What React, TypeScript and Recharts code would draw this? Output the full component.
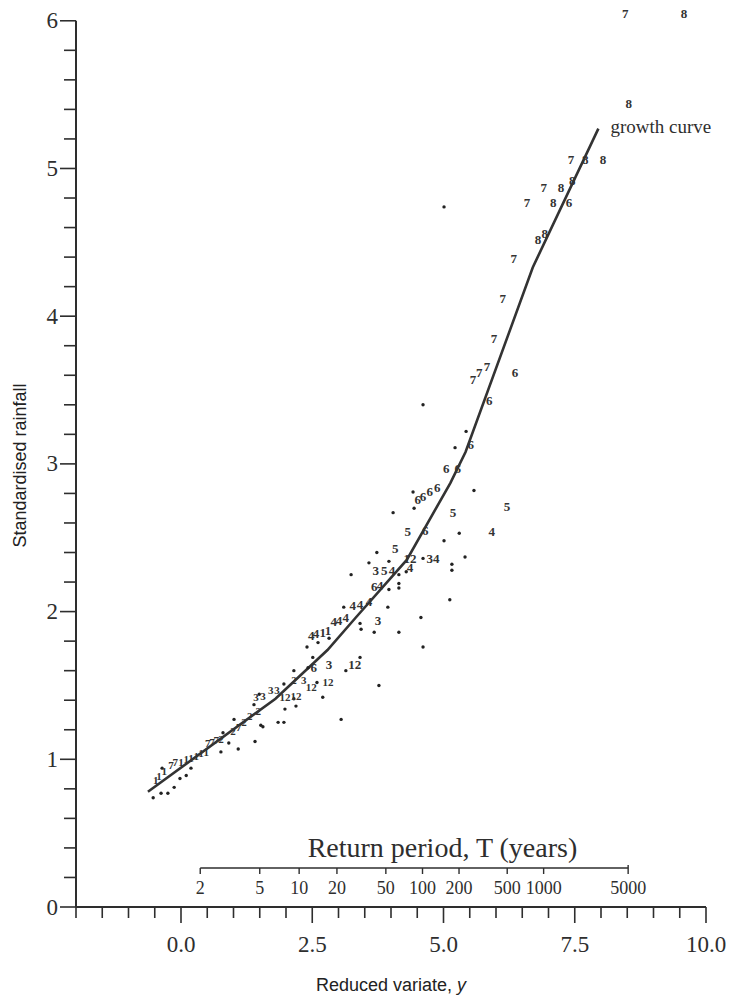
import React from 'react'
import {
  ComposedChart,
  Line,
  Scatter,
  XAxis,
  YAxis,
  ReferenceLine,
  ReferenceDot,
} from 'recharts'

// growth curve (reduced variate vs standardised rainfall)
const growthX = [-0.63, 1.8, 2.79, 3.33, 4.3, 5.13, 5.42, 6.7, 7.95]
const growthY = [0.78, 1.41, 1.74, 1.96, 2.35, 2.87, 3.08, 4.33, 5.27]

// unlabelled plotting positions
const dotX = [
  -0.53, -0.38, -0.25, -0.13, -0.02, 0.1, -0.36, 0.19, 0.8, 0.76, 1.09, 1.01, 1.41, 1.56,
  1.39, 1.49, 1.85, 1.96, 1.98, 2.19, 2.15, 2.7, 2.59, 1.96, 3.05, 3.77, 3.14, 3.41, 2.15,
  2.42, 2.51, 2.4, 2.61, 2.82, 3.41, 3.43, 3.68, 4.15, 4.61, 4.57, 5.12, 3.94, 3.1, 4.15,
  4.15, 3.96, 3.24, 4.15, 4.29, 3.58, 3.96, 5.16, 5.16, 4.61, 5.41, 3.73, 5.01, 5.3, 4.04,
  4.44, 4.42, 5.58, 5.22, 5.43, 4.61, 5.01, 1.52, 0.91,
]
const dotY = [
  0.74, 0.77, 0.77, 0.81, 0.87, 0.89, 0.94, 0.94, 1.18, 1.05, 1.07, 1.27, 1.12, 1.22,
  1.37, 1.44, 1.25, 1.25, 1.34, 1.36, 1.41, 1.42, 1.52, 1.51, 1.27, 1.5, 1.6, 1.69, 1.6,
  1.62, 1.69, 1.76, 1.79, 1.82, 1.92, 1.88, 1.86, 1.86, 1.76, 1.96, 2.08, 2.03, 2.03, 2.19,
  2.16, 2.15, 2.25, 2.25, 2.27, 2.33, 2.34, 2.32, 2.28, 2.36, 2.37, 2.4, 2.48, 2.53, 2.67,
  2.7, 2.81, 2.82, 3.11, 3.22, 3.4, 4.74, 1.23, 1.11,
]

// numbered plotting positions (number = site)
const markX = [
  8.46, 9.58, 8.53, 7.43, 7.7, 8.04, 7.45, 6.91, 7.24, 6.59, 7.09, 7.39, 6.8, 6.93, 6.34,
  6.13, 5.96, 5.56, 5.68, 5.83, 6.36, 5.87, 5.52, 5.05, 5.27, 4.51, 4.61, 4.74, 4.88, 5.18,
  6.21, 4.32, 4.65, 5.92, 4.08, 4.36, 4.8, 3.71, 3.87, 4.02, 4.36, 3.68, 3.79, 3.27, 3.41,
  3.58, 3.75, 2.91, 3.01, 3.14, 2.48, 2.57, 2.7, 2.8, 2.53, 2.82, 3.31, 2.15, 2.34, 2.8,
  2.48, 1.43, 1.56, 1.71, 1.83, 1.98, 2.19, 0.99, 1.1, 1.2, 1.31, 1.47, 0.51, 0.59, 0.67,
  0.76, -0.19, -0.11, 0.0, 0.1, 0.19, 0.29, 0.38, 0.48, -0.48, -0.42, -0.32,
]
const markY = [
  6.05, 6.05, 5.44, 5.06, 5.06, 5.06, 4.92, 4.87, 4.87, 4.77, 4.77, 4.77, 4.52, 4.56, 4.39,
  4.12, 3.85, 3.57, 3.62, 3.66, 3.62, 3.43, 3.13, 2.97, 2.97, 2.76, 2.78, 2.81, 2.84, 2.67,
  2.71, 2.54, 2.55, 2.54, 2.43, 2.36, 2.36, 2.28, 2.28, 2.28, 2.3, 2.17, 2.18, 2.04, 2.05,
  2.07, 1.94, 1.93, 1.94, 1.96, 1.84, 1.85, 1.86, 1.87, 1.62, 1.64, 1.64, 1.54, 1.54, 1.52,
  1.49, 1.42, 1.43, 1.47, 1.47, 1.42, 1.43, 1.19, 1.22, 1.25, 1.29, 1.33, 1.11, 1.12, 1.13,
  1.14, 0.96, 0.98, 0.98, 1.0, 1.01, 1.02, 1.04, 1.05, 0.86, 0.89, 0.92,
]
const markText = [
  '7', '8', '8', '7', '8', '8', '8', '7', '8', '7', '8', '6', '8', '8', '7',
  '7', '7', '7', '7', '7', '6', '6', '6', '6', '6', '6', '6', '6', '6', '5',
  '5', '5', '6', '4', '5', '12', '34', '3', '5', '4', '4', '6', '4', '4', '4',
  '4', '3', '4', '4', '4', '4', '4', '1', '1', '6', '3', '12', '2', '3', '12',
  '12', '3', '3', '3', '3', '12', '12', '2', '7', '2', '2', '2', '7', '7', '7',
  '2', '7', '7', '1', '1', '1', '1', '1', '1', '1', '1', '1',
]

// secondary scale
const returnPeriods = [2, 5, 10, 20, 50, 100, 200, 500, 1000, 5000]

const xTicks = [
  -2, -1.5, -1, -0.5, 0, 0.5, 1, 1.5, 2, 2.5, 3, 3.5, 4, 4.5, 5, 5.5, 6, 6.5, 7, 7.5, 8,
  8.5, 9, 9.5, 10,
]
const yTicks = [
  0, 0.2, 0.4, 0.6, 0.8, 1, 1.2, 1.4, 1.6, 1.8, 2, 2.2, 2.4, 2.6, 2.8, 3, 3.2, 3.4, 3.6,
  3.8, 4, 4.2, 4.4, 4.6, 4.8, 5, 5.2, 5.4, 5.6, 5.8, 6,
]

const INK = '#2e2e2e'
const SERIF = '"Liberation Serif", "Times New Roman", serif'
const SANS = '"Liberation Sans", Arial, sans-serif'

// where the return-period scale sits inside the plot
const RP_Y = 0.264
const RP_TITLE_X = 4.98
const RP_TITLE_Y = 0.4

// Gumbel reduced variate for a return period
const reducedVariate = (T: number) => -Math.log(-Math.log(1 - 1 / T))

const growthData = growthX.map((x, i) => ({ x, y: growthY[i] }))
const dotData = dotX.map((x, i) => ({ x, y: dotY[i] }))
const markData = markX.map((x, i) => ({ x, y: markY[i], label: markText[i] }))
const rpData = returnPeriods.map((T) => ({ x: reducedVariate(T), y: RP_Y, T }))

function XTick(props: any) {
  const { x, y, payload } = props
  const v = payload.value as number
  const major = Math.abs(v / 2.5 - Math.round(v / 2.5)) < 1e-6
  return (
    <g>
      <line x1={x} y1={y} x2={x} y2={y + (major ? 16 : 11)} stroke={INK} strokeWidth={1.6} />
      {major && (
        <text x={x} y={y + 45} textAnchor="middle" fontFamily={SERIF} fontSize={23} fill={INK}>
          {v.toFixed(1)}
        </text>
      )}
    </g>
  )
}

function YTick(props: any) {
  const { x, y, payload } = props
  const v = payload.value as number
  const major = Math.abs(v - Math.round(v)) < 1e-6
  return (
    <g>
      <line x1={x} y1={y} x2={x - (major ? 16 : 12)} y2={y} stroke={INK} strokeWidth={1.6} />
      {major && (
        <text
          x={x - 18}
          y={y}
          textAnchor="end"
          dominantBaseline="central"
          fontFamily={SERIF}
          fontSize={23}
          fill={INK}
        >
          {Math.round(v)}
        </text>
      )}
    </g>
  )
}

const SmallDot = (props: any) => <circle cx={props.cx} cy={props.cy} r={1.7} fill="#222" />

// the crowded low-return-period marks are printed smaller in the source
const NumberMark = (props: any) => {
  const small = props.payload.y < 1.6
  return (
    <text
      x={props.cx}
      y={props.cy}
      textAnchor="middle"
      dominantBaseline="central"
      fontFamily={SERIF}
      fontSize={small ? 11 : 13}
      fontWeight={600}
      fill="#333"
    >
      {props.payload.label}
    </text>
  )
}

const RpTick = (props: any) => {
  const { cx, cy, payload } = props
  const isEnd = payload.T === returnPeriods[returnPeriods.length - 1]
  return (
    <g>
      <line x1={cx} y1={isEnd ? cy - 3 : cy} x2={cx} y2={cy + 6} stroke={INK} strokeWidth={1.4} />
      <text x={cx} y={cy + 26} textAnchor="middle" fontFamily={SERIF} fontSize={18} fill={INK}>
        {payload.T}
      </text>
    </g>
  )
}

const RpTitle = (props: any) => (
  <text
    x={props.cx}
    y={props.cy}
    textAnchor="middle"
    dominantBaseline="central"
    fontFamily={SERIF}
    fontSize={28}
    fill={INK}
  >
    Return period, T (years)
  </text>
)

const GrowthLabel = (props: any) => (
  <text
    x={props.cx + 12}
    y={props.cy - 2}
    dominantBaseline="central"
    fontFamily={SERIF}
    fontSize={19}
    fill={INK}
  >
    growth curve
  </text>
)

const XTitle = (props: any) => {
  const vb = props.viewBox || { x: 76, y: 907, width: 630, height: 30 }
  return (
    <text x={vb.x + vb.width / 2} y={vb.y + 84} textAnchor="middle" fontFamily={SANS} fontSize={18} fill="#222">
      Reduced variate, <tspan fontStyle="italic">y</tspan>
    </text>
  )
}

const YTitle = (props: any) => {
  const vb = props.viewBox || { x: 16, y: 6, width: 60, height: 901 }
  const cx = vb.x + 4
  const cy = vb.y + vb.height / 2 + 9
  return (
    <text
      x={cx}
      y={cy}
      transform={`rotate(-90 ${cx} ${cy})`}
      textAnchor="middle"
      dominantBaseline="central"
      fontFamily={SANS}
      fontSize={18}
      fill="#222"
    >
      Standardised rainfall
    </text>
  )
}

export default function App() {
  const last = growthX.length - 1
  return (
    <div style={{ position: 'absolute', left: 0, top: 0, width: 730, height: 1001, background: '#fff' }}>
      <ComposedChart width={730} height={1001} margin={{ top: 6, right: 24, bottom: 64, left: 16 }}>
        <XAxis
          type="number"
          dataKey="x"
          domain={[-2, 10]}
          ticks={xTicks}
          interval={0}
          height={30}
          tickSize={0}
          tickMargin={0}
          tick={<XTick />}
          axisLine={{ stroke: INK, strokeWidth: 2 }}
          tickLine={false}
          label={{ content: <XTitle /> }}
        />
        <YAxis
          type="number"
          dataKey="y"
          domain={[0, 6.1]}
          ticks={yTicks}
          interval={0}
          width={60}
          tickSize={0}
          tickMargin={0}
          tick={<YTick />}
          axisLine={false}
          tickLine={false}
          label={{ content: <YTitle /> }}
        />
        <ReferenceLine
          segment={[
            { x: -2, y: 0 },
            { x: -2, y: 6 },
          ]}
          stroke={INK}
          strokeWidth={2}
          ifOverflow="visible"
        />
        <ReferenceLine
          segment={[
            { x: rpData[0].x, y: RP_Y },
            { x: rpData[rpData.length - 1].x, y: RP_Y },
          ]}
          stroke={INK}
          strokeWidth={1.5}
          ifOverflow="visible"
        />
        <Scatter data={rpData} shape={RpTick} isAnimationActive={false} />
        <ReferenceDot x={RP_TITLE_X} y={RP_TITLE_Y} r={0} shape={RpTitle} ifOverflow="visible" />
        <Scatter data={dotData} shape={SmallDot} isAnimationActive={false} />
        <Scatter data={markData} shape={NumberMark} isAnimationActive={false} />
        <Line
          data={growthData}
          dataKey="y"
          type="linear"
          stroke="#333"
          strokeWidth={2.6}
          dot={false}
          activeDot={false}
          isAnimationActive={false}
        />
        <ReferenceDot
          x={growthX[last]}
          y={growthY[last]}
          r={0}
          shape={GrowthLabel}
          ifOverflow="visible"
        />
      </ComposedChart>
    </div>
  )
}
